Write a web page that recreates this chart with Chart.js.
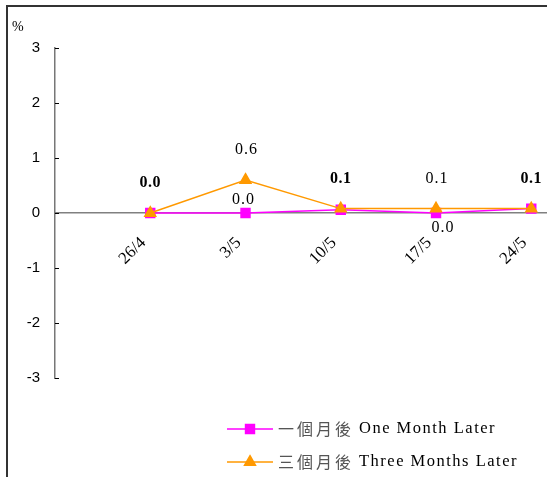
<!DOCTYPE html>
<html>
<head>
<meta charset="utf-8">
<script src="https://cdn.jsdelivr.net/npm/chart.js@4/dist/chart.umd.min.js"></script>
<style>
  html, body { margin: 0; padding: 0; background: #fff; }
  #wrap { position: relative; width: 547px; height: 477px; }
</style>
</head>
<body>
<div id="wrap"><canvas id="myChart" width="547" height="477"></canvas></div>
<script>
// data
var categories = ["26/4", "3/5", "10/5", "17/5", "24/5"];
var oneMonth = [0.0, 0.0, 0.06, 0.0, 0.08];
var threeMonths = [0.0, 0.6, 0.08, 0.08, 0.08];
var yTicks = [-3, -2, -1, 0, 1, 2, 3];
var oneMonthLabel = ["一個月後", "One Month Later"];
var threeMonthsLabel = ["三個月後", "Three Months Later"];

var serif = "'Liberation Serif', 'Times New Roman', serif";
var cjk = "'Noto Sans CJK TC', 'Noto Sans CJK SC', sans-serif";
var sans = "'Liberation Sans', Arial, sans-serif";

function toPoints(arr) {
    return arr.map(function (v, i) { return { x: i + 1, y: v }; });
}

// border, % sign, inner ticks, value labels, legend
var decor = {
    id: 'decor',
    beforeDraw: function (chart) {
        var c = chart.ctx;
        c.save();
        c.fillStyle = '#fff';
        c.fillRect(0, 0, chart.width, chart.height);
        c.fillStyle = '#333';
        c.fillRect(6, 5, 2, chart.height);
        c.fillRect(6, 5, chart.width, 2);
        c.fillStyle = '#000';
        c.font = '14px ' + serif;
        c.textBaseline = 'middle';
        c.fillText('%', 12, 27);
        c.restore();
    },
    afterDraw: function (chart) {
        var c = chart.ctx;
        var ys = chart.scales.y;
        var area = chart.chartArea;
        c.save();
        // small ticks pointing inward
        c.strokeStyle = '#000';
        c.lineWidth = 1;
        yTicks.forEach(function (t) {
            var py = Math.round(ys.getPixelForValue(t)) + 0.5;
            c.beginPath();
            c.moveTo(area.left, py);
            c.lineTo(area.left + 4, py);
            c.stroke();
        });

        // value labels
        var m1 = chart.getDatasetMeta(0);
        var m3 = chart.getDatasetMeta(1);
        c.textAlign = 'center';
        c.textBaseline = 'middle';
        c.fillStyle = '#000';
        categories.forEach(function (cat, i) {
            var a = oneMonth[i].toFixed(1);
            var b = threeMonths[i].toFixed(1);
            var p1 = m1.data[i];
            var p3 = m3.data[i];
            if (a === b) {
                c.letterSpacing = '0.5px';
                c.font = 'bold 16px ' + serif;
                c.fillText(b, p3.x, p3.y - 30);
            } else {
                c.letterSpacing = '1px';
                c.font = '16px ' + serif;
                c.fillText(b, p3.x + 1, p3.y - 30);
                if (p1.y - p3.y > 20) {
                    c.fillText(a, p1.x - 2, p1.y - 13);
                } else {
                    c.fillText(a, p1.x + 7, p1.y + 15);
                }
            }
        });

        // legend
        var rows = [
            { ds: chart.data.datasets[0], text: oneMonthLabel, y: 429 },
            { ds: chart.data.datasets[1], text: threeMonthsLabel, y: 462 }
        ];
        rows.forEach(function (r) {
            c.strokeStyle = r.ds.borderColor;
            c.lineWidth = 1.5;
            c.beginPath();
            c.moveTo(227, r.y);
            c.lineTo(273, r.y);
            c.stroke();
            c.fillStyle = r.ds.backgroundColor;
            c.strokeStyle = r.ds.borderColor;
            Chart.helpers.drawPoint(c, {
                pointStyle: r.ds.pointStyle,
                radius: r.ds.pointRadius,
                borderWidth: 1
            }, 250, r.y);
            c.textAlign = 'left';
            c.letterSpacing = '3px';
            c.fillStyle = '#555';
            c.font = '16px ' + cjk;
            c.fillText(r.text[0], 278, r.y);
            var w = c.measureText(r.text[0]).width;
            c.letterSpacing = '1.5px';
            c.fillStyle = '#000';
            c.font = '16.5px ' + serif;
            c.fillText(r.text[1], 278 + w + 5, r.y);
        });
        c.restore();
    }
};

var ctx = document.getElementById('myChart').getContext('2d');
var chart = new Chart(ctx, {
    type: 'line',
    data: {
        datasets: [{
            label: oneMonthLabel.join(' '),
            data: toPoints(oneMonth),
            borderColor: '#ff00ff',
            backgroundColor: '#ff00ff',
            pointBorderColor: '#ff00ff',
            pointStyle: 'rect',
            pointRadius: 6.3,
            borderWidth: 1.5,
            order: 2
        }, {
            label: threeMonthsLabel.join(' '),
            data: toPoints(threeMonths),
            borderColor: '#ff9900',
            backgroundColor: '#ff9900',
            pointBorderColor: '#ff9900',
            pointStyle: 'triangle',
            pointRadius: 6.3,
            borderWidth: 1.5,
            order: 1
        }]
    },
    plugins: [decor],
    options: {
        responsive: false,
        animation: false,
        layout: { padding: { left: 0, top: 48, right: 0, bottom: 99 }, autoPadding: false },
        plugins: { legend: { display: false }, tooltip: { enabled: false } },
        scales: {
            x: {
                type: 'linear',
                position: { y: 0 },
                min: 0,
                max: 5.165,
                afterBuildTicks: function (axis) {
                    axis.ticks = categories.map(function (c, i) { return { value: i + 1 }; });
                },
                afterFit: function (axis) {
                    axis.paddingLeft = 0;
                    axis.paddingRight = 0;
                },
                grid: { display: false, drawTicks: false },
                border: { display: true, color: '#808080', width: 1.5 },
                ticks: {
                    autoSkip: false,
                    minRotation: 45,
                    maxRotation: 45,
                    padding: 20,
                    labelOffset: -7,
                    color: '#000',
                    font: { family: serif, size: 17 },
                    callback: function (v) { return categories[v - 1]; }
                }
            },
            y: {
                min: -3,
                max: 3,
                afterBuildTicks: function (axis) {
                    axis.ticks = yTicks.map(function (t) { return { value: t }; });
                },
                afterFit: function (axis) { axis.width = 55; },
                grid: { display: false, drawTicks: false },
                border: { display: true, color: '#777', width: 1.5 },
                ticks: {
                    padding: 15,
                    color: '#000',
                    font: { family: sans, size: 15 }
                }
            }
        }
    }
});
</script>
</body>
</html>
